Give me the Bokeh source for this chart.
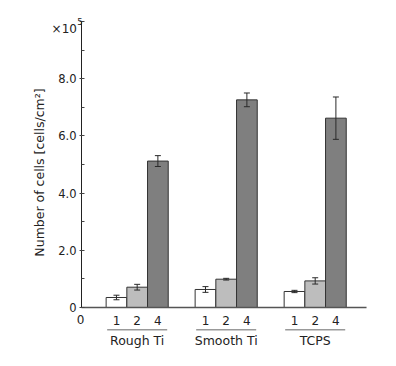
import math
from bokeh.plotting import figure
from bokeh.models import (ColumnDataSource, Range1d, FixedTicker, Whisker, TeeHead, Label)
from bokeh.core.properties import value
from bokeh.embed import file_html
from bokeh.resources import INLINE

# ---- data (x 10^5 cells/cm^2) ----
groups = ["Rough Ti", "Smooth Ti", "TCPS"]
levels = ["1", "2", "4"]
mean_1 = [0.35, 0.63, 0.56]
mean_2 = [0.71, 0.99, 0.93]
mean_4 = [5.12, 7.26, 6.62]
err_1 = [0.08, 0.10, 0.04]
err_2 = [0.10, 0.03, 0.11]
err_4 = [0.19, 0.24, 0.74]
y_ticks = [0, 2, 4, 6, 8, 10]
y_minor = [1, 3, 5, 7, 9]
y_tick_labels = ["0", "2.0", "4.0", "6.0", "8.0", ""]

colors = ["#ffffff", "#bdbdbd", "#7f7f7f"]
GROUP_STEP = 4.3
AX_X0, AX_X1 = -1.69, 12.08          # extent of the x axis line
X_START, X_END = -5.603, 13.238      # whole canvas
Y_START, Y_END = -1.853, 10.734
TXT = "#222222"

p = figure(width=390, height=360, output_backend="svg", toolbar_location=None,
           x_range=Range1d(X_START, X_END), y_range=Range1d(Y_START, Y_END),
           x_axis_type=None, min_border=0)
p.outline_line_color = None
p.xgrid.visible = False
p.ygrid.visible = False
p.background_fill_color = "white"

means = [mean_1, mean_2, mean_4]
errs = [err_1, err_2, err_4]
xs, tops, ups, lows, fills, labs = [], [], [], [], [], []
for k in range(3):
    for g in range(3):
        x = g * GROUP_STEP + k
        xs.append(x)
        tops.append(means[k][g])
        ups.append(means[k][g] + errs[k][g])
        lows.append(means[k][g] - errs[k][g])
        fills.append(colors[k])
        labs.append(levels[k])

src = ColumnDataSource(dict(x=xs, top=tops, upper=ups, lower=lows, fill=fills, lab=labs,
                            ly=[-0.44] * len(xs)))
p.vbar(x="x", top="top", bottom=0, width=1.0, fill_color="fill",
       line_color="#333333", line_width=1, source=src)

p.add_layout(Whisker(base="x", upper="upper", lower="lower", source=src, level="annotation",
                     line_color="#2a2a2a", line_width=1,
                     upper_head=TeeHead(size=6, line_color="#2a2a2a", line_width=1),
                     lower_head=TeeHead(size=6, line_color="#2a2a2a", line_width=1)))

# baseline (x axis line)
p.segment(x0=[AX_X0], y0=[0], x1=[AX_X1], y1=[0], line_color="#555555", line_width=1.3)

# level labels
p.text(x="x", y="ly", text="lab", source=src, text_align="center", text_baseline="middle",
       text_font=value("DejaVu Sans"), text_font_size="12px", text_color=TXT)

# group underlines and names
gx0 = [g * GROUP_STEP - 0.45 for g in range(3)]
gx1 = [g * GROUP_STEP + 2.45 for g in range(3)]
gc = [g * GROUP_STEP + 1.0 for g in range(3)]
p.segment(x0=gx0, y0=[-0.78] * 3, x1=gx1, y1=[-0.78] * 3, line_color="#999999", line_width=1.5)
p.text(x=gc, y=[-1.17] * 3, text=groups, text_align="center", text_baseline="middle",
       text_font=value("DejaVu Sans"), text_font_size="12.5px", text_color=TXT)

# y axis, drawn at the left end of the x axis line
ya = p.yaxis[0]
ya.fixed_location = AX_X0
ya.bounds = (0, 10)
ya.ticker = FixedTicker(ticks=y_ticks, minor_ticks=y_minor)
ya.major_label_overrides = {t: l for t, l in zip(y_ticks, y_tick_labels)}
ya.major_tick_in = 3
ya.major_tick_out = 2
ya.minor_tick_in = 3
ya.minor_tick_out = 0
ya.axis_line_color = "#222222"
ya.major_tick_line_color = "#444444"
ya.minor_tick_line_color = "#444444"
ya.major_label_standoff = 3
ya.major_label_text_font = "DejaVu Sans"
ya.major_label_text_font_size = "11.5px"
ya.major_label_text_color = TXT

# y axis title
p.add_layout(Label(x=AX_X0 - 2.03, y=4.72, text="Number of cells [cells/cm²]",
                   angle=math.pi / 2, text_align="center", text_baseline="middle",
                   text_font="DejaVu Sans", text_font_size="12.5px", text_color=TXT))
# x10^5 multiplier
p.add_layout(Label(x=AX_X0 - 0.22, y=9.74, text="×10", text_align="right",
                   text_baseline="middle", text_font="DejaVu Sans",
                   text_font_size="12px", text_color=TXT))
p.add_layout(Label(x=AX_X0 - 0.2, y=10.0, text="5", text_align="left",
                   text_baseline="middle", text_font="DejaVu Sans",
                   text_font_size="8.5px", text_color=TXT))
# x axis origin label
p.add_layout(Label(x=AX_X0 - 0.05, y=-0.42, text="0", text_align="center",
                   text_baseline="middle", text_font="DejaVu Sans",
                   text_font_size="12px", text_color=TXT))

open("out.html", "w").write(file_html(p, INLINE))
